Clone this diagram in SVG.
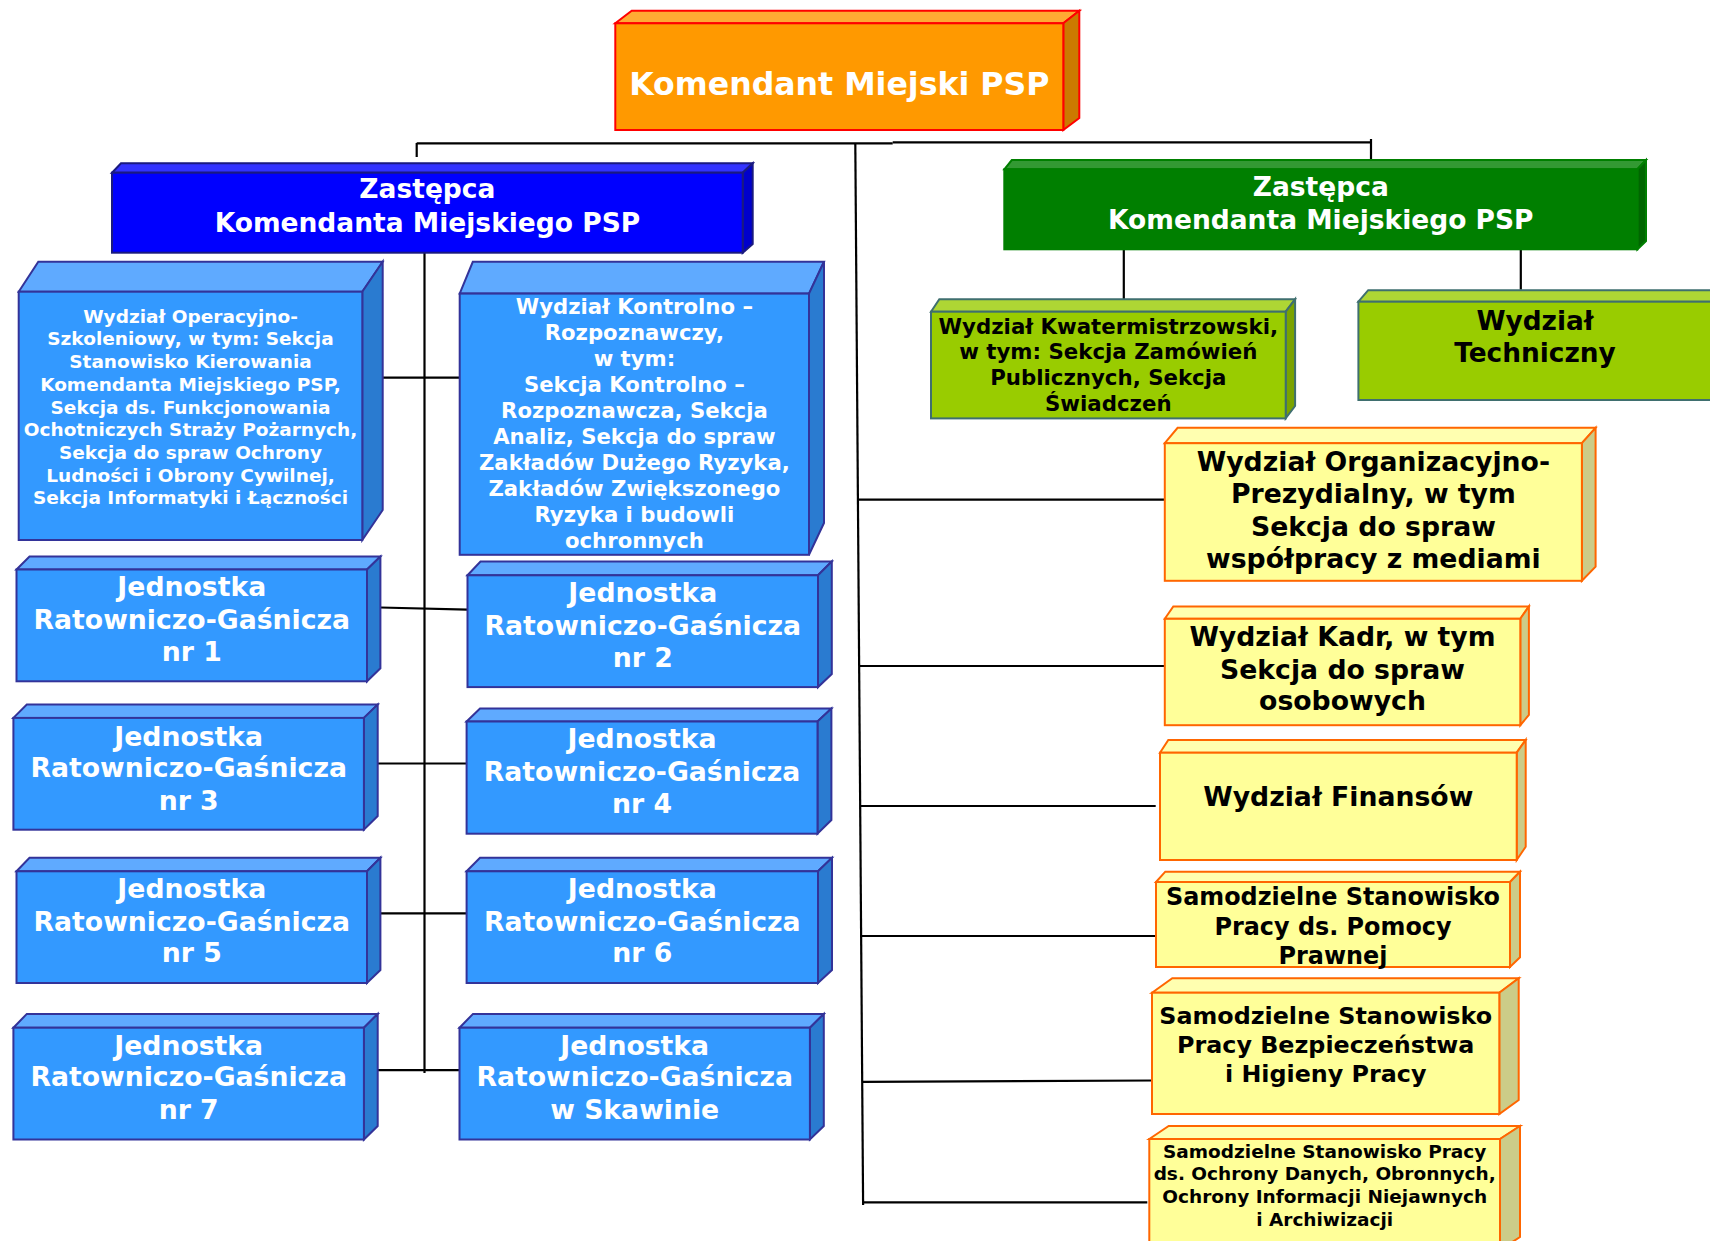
<svg xmlns="http://www.w3.org/2000/svg" width="1710" height="1241" viewBox="0 0 1710 1241">
<style>
.cn line{stroke:#000;stroke-width:2.2;fill:none}
.bx polygon,.bx rect{stroke-width:2;stroke-linejoin:miter}
.or rect{fill:#FF9900}.or .tp{fill:#FFAA33}.or .sd{fill:#CC7A00}.or rect,.or polygon{stroke:#FF0000}
.bl rect{fill:#0000FF}.bl .tp{fill:#3333FF}.bl .sd{fill:#0000CC}.bl rect,.bl polygon{stroke:#1A1A80}
.gr rect{fill:#007F00}.gr .tp{fill:#339933}.gr .sd{fill:#006600}.gr rect,.gr polygon{stroke:#007F00}
.lb rect{fill:#3399FF}.lb .tp{fill:#5FAAFF}.lb .sd{fill:#2A7BD0}.lb rect,.lb polygon{stroke:#333399}
.lm rect{fill:#99CC00}.lm .tp{fill:#AED634}.lm .sd{fill:#7AA300}.lm rect,.lm polygon{stroke:#3F6F6F}
.ye rect{fill:#FFFF99}.ye .tp{fill:#FFFFB0}.ye .sd{fill:#CCCC88}.ye rect,.ye polygon{stroke:#FF6600}
text{font-family:"DejaVu Sans",Verdana,sans-serif;font-weight:bold;text-anchor:middle;stroke:none}
.w{fill:#FFFFFF}.k{fill:#000000}
</style>
<rect x="0" y="0" width="1710" height="1241" fill="#FFFFFF"/>

<g id="connectors" class="cn">
<line x1="416.7" y1="143.3" x2="892.7" y2="143.3"/>
<line x1="892.7" y1="142.3" x2="1371" y2="142.3"/>
<line x1="416.7" y1="143" x2="416.7" y2="157"/>
<line x1="1371" y1="139" x2="1371" y2="160"/>
<line x1="855.3" y1="143" x2="863.1" y2="1205"/>
<line x1="858.8" y1="499.6" x2="1164.8" y2="499.6"/>
<line x1="860" y1="666" x2="1164.8" y2="666"/>
<line x1="861" y1="806" x2="1155.7" y2="806"/>
<line x1="862" y1="936" x2="1155" y2="936"/>
<line x1="863" y1="1081.8" x2="1154" y2="1080.5"/>
<line x1="863" y1="1202.3" x2="1147.3" y2="1202.3"/>
<line x1="424.5" y1="252.7" x2="424.5" y2="1073"/>
<line x1="383" y1="377.7" x2="459.7" y2="377.7"/>
<line x1="380.4" y1="607.5" x2="467.5" y2="609.7"/>
<line x1="377.7" y1="763.5" x2="466.6" y2="763.5"/>
<line x1="380.4" y1="913.3" x2="466.6" y2="913.3"/>
<line x1="377.7" y1="1070.2" x2="459.5" y2="1070.2"/>
<line x1="1123.8" y1="249" x2="1123.8" y2="299.6"/>
<line x1="1520.8" y1="249" x2="1520.8" y2="289.7"/>
</g>

<g id="komendant" class="bx or">
<polygon class="tp" points="615.3,23.3 631.7,10.7 1079.3,10.7 1063.3,23.3"/>
<polygon class="sd" points="1063.3,23.3 1079.3,10.7 1079.3,118 1063.3,130"/>
<rect x="615.3" y="23.3" width="448" height="106.7"/>
<text class="w" x="839.3" y="95" font-size="31.6">Komendant Miejski PSP</text>
</g>

<g id="zastepca-1" class="bx bl">
<polygon class="tp" points="112,172.7 121,163.3 752.7,163.3 742.7,172.7"/>
<polygon class="sd" points="742.7,172.7 752.7,163.3 752.7,244 742.7,252.7"/>
<rect x="112" y="172.7" width="630.7" height="80"/>
<text class="w" x="427.4" y="198.2" font-size="26.5">Zastępca</text>
<text class="w" x="427.4" y="232" font-size="26.5">Komendanta Miejskiego PSP</text>
</g>

<g id="zastepca-2" class="bx gr">
<polygon class="tp" points="1004.3,169.3 1011.8,160 1646,160 1637.4,169.3"/>
<polygon class="sd" points="1637.4,169.3 1646,160 1646,241 1637.4,249.3"/>
<rect x="1004.3" y="169.3" width="633.1" height="80"/>
<text class="w" x="1320.8" y="195.7" font-size="26.5">Zastępca</text>
<text class="w" x="1320.8" y="229" font-size="26.5">Komendanta Miejskiego PSP</text>
</g>

<g id="wydzial-operacyjno" class="bx lb">
<polygon class="tp" points="18.7,291.7 38.3,261.7 382.7,261.7 362.3,291.7"/>
<polygon class="sd" points="362.3,291.7 382.7,261.7 382.7,510 362.3,540"/>
<rect x="18.7" y="291.7" width="343.6" height="248.3"/>
<g class="w" font-size="18.5">
<text x="190.5" y="322.7">Wydział Operacyjno-</text>
<text x="190.5" y="345.4">Szkoleniowy, w tym: Sekcja</text>
<text x="190.5" y="368.1">Stanowisko Kierowania</text>
<text x="190.5" y="390.8">Komendanta Miejskiego PSP,</text>
<text x="190.5" y="413.5">Sekcja ds. Funkcjonowania</text>
<text x="190.5" y="436.2">Ochotniczych Straży Pożarnych,</text>
<text x="190.5" y="458.9">Sekcja do spraw Ochrony</text>
<text x="190.5" y="481.6">Ludności i Obrony Cywilnej,</text>
<text x="190.5" y="504.3">Sekcja Informatyki i Łączności</text>
</g>
</g>

<g id="wydzial-kontrolno" class="bx lb">
<polygon class="tp" points="459.7,293.6 472.8,261.8 824,261.8 809,293.6"/>
<polygon class="sd" points="809,293.6 824,261.8 824,523 809,554.8"/>
<rect x="459.7" y="293.6" width="349.3" height="261.2"/>
<g class="w" font-size="21.2">
<text x="634.4" y="314.3">Wydział Kontrolno –</text>
<text x="634.4" y="340.3">Rozpoznawczy,</text>
<text x="634.4" y="366.3">w tym:</text>
<text x="634.4" y="392.3">Sekcja Kontrolno –</text>
<text x="634.4" y="418.3">Rozpoznawcza, Sekcja</text>
<text x="634.4" y="444.3">Analiz, Sekcja do spraw</text>
<text x="634.4" y="470.3">Zakładów Dużego Ryzyka,</text>
<text x="634.4" y="496.3">Zakładów Zwiększonego</text>
<text x="634.4" y="522.3">Ryzyka i budowli</text>
<text x="634.4" y="548.3">ochronnych</text>
</g>
</g>

<g id="jrg-1" class="bx lb">
<polygon class="tp" points="16.5,569.5 29.5,556.5 380.4,556.5 367,569.5"/>
<polygon class="sd" points="367,569.5 380.4,556.5 380.4,668.3 367,681.3"/>
<rect x="16.5" y="569.5" width="350.5" height="111.8"/>
<g class="w" font-size="26.7">
<text x="191.8" y="595.9">Jednostka</text>
<text x="191.8" y="628.5">Ratowniczo-Gaśnicza</text>
<text x="191.8" y="660.7">nr 1</text>
</g>
</g>

<g id="jrg-2" class="bx lb">
<polygon class="tp" points="467.5,575.3 480.5,561.5 831.8,561.5 818,575.3"/>
<polygon class="sd" points="818,575.3 831.8,561.5 831.8,674 818,687.1"/>
<rect x="467.5" y="575.3" width="350.5" height="111.8"/>
<g class="w" font-size="26.7">
<text x="642.8" y="601.7">Jednostka</text>
<text x="642.8" y="634.8">Ratowniczo-Gaśnicza</text>
<text x="642.8" y="667">nr 2</text>
</g>
</g>

<g id="jrg-3" class="bx lb">
<polygon class="tp" points="13.4,717.9 26.8,704.5 377.7,704.5 363.9,717.9"/>
<polygon class="sd" points="363.9,717.9 377.7,704.5 377.7,816 363.9,829.7"/>
<rect x="13.4" y="717.9" width="350.5" height="111.8"/>
<g class="w" font-size="26.7">
<text x="188.7" y="745.6">Jednostka</text>
<text x="188.7" y="777">Ratowniczo-Gaśnicza</text>
<text x="188.7" y="809.6">nr 3</text>
</g>
</g>

<g id="jrg-4" class="bx lb">
<polygon class="tp" points="466.6,721.5 480,708.5 831.4,708.5 817.5,721.5"/>
<polygon class="sd" points="817.5,721.5 831.4,708.5 831.4,820 817.5,833.7"/>
<rect x="466.6" y="721.5" width="350.9" height="112.2"/>
<g class="w" font-size="26.7">
<text x="642" y="747.9">Jednostka</text>
<text x="642" y="781.4">Ratowniczo-Gaśnicza</text>
<text x="642" y="812.7">nr 4</text>
</g>
</g>

<g id="jrg-5" class="bx lb">
<polygon class="tp" points="16.5,871.3 29.5,857.8 380.4,857.8 367,871.3"/>
<polygon class="sd" points="367,871.3 380.4,857.8 380.4,970 367,983"/>
<rect x="16.5" y="871.3" width="350.5" height="111.7"/>
<g class="w" font-size="26.7">
<text x="191.8" y="897.6">Jednostka</text>
<text x="191.8" y="931.1">Ratowniczo-Gaśnicza</text>
<text x="191.8" y="962.4">nr 5</text>
</g>
</g>

<g id="jrg-6" class="bx lb">
<polygon class="tp" points="466.6,871.3 480,857.8 832,857.8 818,871.3"/>
<polygon class="sd" points="818,871.3 832,857.8 832,970 818,983"/>
<rect x="466.6" y="871.3" width="351.4" height="111.7"/>
<g class="w" font-size="26.7">
<text x="642.3" y="897.6">Jednostka</text>
<text x="642.3" y="931.1">Ratowniczo-Gaśnicza</text>
<text x="642.3" y="962.4">nr 6</text>
</g>
</g>

<g id="jrg-7" class="bx lb">
<polygon class="tp" points="13.4,1027.7 26.8,1013.9 377.7,1013.9 363.9,1027.7"/>
<polygon class="sd" points="363.9,1027.7 377.7,1013.9 377.7,1126 363.9,1139.5"/>
<rect x="13.4" y="1027.7" width="350.5" height="111.8"/>
<g class="w" font-size="26.7">
<text x="188.7" y="1055">Jednostka</text>
<text x="188.7" y="1086.3">Ratowniczo-Gaśnicza</text>
<text x="188.7" y="1118.9">nr 7</text>
</g>
</g>

<g id="jrg-skawina" class="bx lb">
<polygon class="tp" points="459.5,1027.7 473,1013.9 823.8,1013.9 809.9,1027.7"/>
<polygon class="sd" points="809.9,1027.7 823.8,1013.9 823.8,1126 809.9,1139.5"/>
<rect x="459.5" y="1027.7" width="350.4" height="111.8"/>
<g class="w" font-size="26.7">
<text x="634.7" y="1055">Jednostka</text>
<text x="634.7" y="1086.3">Ratowniczo-Gaśnicza</text>
<text x="634.7" y="1118.9">w Skawinie</text>
</g>
</g>

<g id="wydzial-kwatermistrzowski" class="bx lm">
<polygon class="tp" points="931,311.7 939.3,299.3 1295.1,299.3 1285.7,311.7"/>
<polygon class="sd" points="1285.7,311.7 1295.1,299.3 1295.1,406 1285.7,418.4"/>
<rect x="931" y="311.7" width="354.7" height="106.7"/>
<g class="k" font-size="21.3">
<text x="1108.3" y="333.8">Wydział Kwatermistrzowski,</text>
<text x="1108.3" y="359.4">w tym: Sekcja Zamówień</text>
<text x="1108.3" y="385">Publicznych, Sekcja</text>
<text x="1108.3" y="410.9">Świadczeń</text>
</g>
</g>

<g id="wydzial-techniczny" class="bx lm">
<polygon class="tp" points="1358.4,301.7 1368.2,290.2 1722,290.2 1712,301.7"/>
<rect x="1358.4" y="301.7" width="353.6" height="98.3"/>
<g class="k" font-size="26.4">
<text x="1535" y="329.5">Wydział</text>
<text x="1535" y="361.5">Techniczny</text>
</g>
</g>

<g id="wydzial-organizacyjno" class="bx ye">
<polygon class="tp" points="1164.8,443.2 1177.6,427.8 1595.6,427.8 1581.9,443.2"/>
<polygon class="sd" points="1581.9,443.2 1595.6,427.8 1595.6,566.7 1581.9,580.8"/>
<rect x="1164.8" y="443.2" width="417.1" height="137.6"/>
<g class="k" font-size="26.7">
<text x="1373.4" y="470.5">Wydział Organizacyjno-</text>
<text x="1373.4" y="503.4">Prezydialny, w tym</text>
<text x="1373.4" y="535.9">Sekcja do spraw</text>
<text x="1373.4" y="567.5">współpracy z mediami</text>
</g>
</g>

<g id="wydzial-kadr" class="bx ye">
<polygon class="tp" points="1164.8,618.8 1173.3,606.4 1528.9,606.4 1520.3,618.8"/>
<polygon class="sd" points="1520.3,618.8 1528.9,606.4 1528.9,715 1520.3,725.2"/>
<rect x="1164.8" y="618.8" width="355.5" height="106.4"/>
<g class="k" font-size="26.7">
<text x="1342.5" y="645.7">Wydział Kadr, w tym</text>
<text x="1342.5" y="678.6">Sekcja do spraw</text>
<text x="1342.5" y="709.8">osobowych</text>
</g>
</g>

<g id="wydzial-finansow" class="bx ye">
<polygon class="tp" points="1160,752.7 1168.3,740 1525.7,740 1516.7,752.7"/>
<polygon class="sd" points="1516.7,752.7 1525.7,740 1525.7,846.7 1516.7,860"/>
<rect x="1160" y="752.7" width="356.7" height="107.3"/>
<text class="k" x="1338.3" y="806" font-size="26.7">Wydział Finansów</text>
</g>

<g id="ssp-pomocy-prawnej" class="bx ye">
<polygon class="tp" points="1156,882 1165.3,871.7 1520,871.7 1510,882"/>
<polygon class="sd" points="1510,882 1520,871.7 1520,957.3 1510,967"/>
<rect x="1156" y="882" width="354" height="85"/>
<g class="k" font-size="23.9">
<text x="1333" y="905">Samodzielne Stanowisko</text>
<text x="1333" y="935">Pracy ds. Pomocy</text>
<text x="1333" y="964">Prawnej</text>
</g>
</g>

<g id="ssp-bhp" class="bx ye">
<polygon class="tp" points="1152,992.7 1172.3,978.3 1518.7,978.3 1499.3,992.7"/>
<polygon class="sd" points="1499.3,992.7 1518.7,978.3 1518.7,1100 1499.3,1114"/>
<rect x="1152" y="992.7" width="347.3" height="121.3"/>
<g class="k" font-size="23.8">
<text x="1325.7" y="1024">Samodzielne Stanowisko</text>
<text x="1325.7" y="1053.3">Pracy Bezpieczeństwa</text>
<text x="1325.7" y="1081.7">i Higieny Pracy</text>
</g>
</g>

<g id="ssp-ochrony-danych" class="bx ye">
<polygon class="tp" points="1149.3,1139 1168.7,1126 1520,1126 1500,1139"/>
<polygon class="sd" points="1500,1139 1520,1126 1520,1237 1500,1250"/>
<rect x="1149.3" y="1139" width="350.7" height="111"/>
<g class="k" font-size="18.5">
<text x="1324.7" y="1157.7">Samodzielne Stanowisko Pracy</text>
<text x="1324.7" y="1180.3">ds. Ochrony Danych, Obronnych,</text>
<text x="1324.7" y="1203">Ochrony Informacji Niejawnych</text>
<text x="1324.7" y="1225.7">i Archiwizacji</text>
</g>
</g>
</svg>
